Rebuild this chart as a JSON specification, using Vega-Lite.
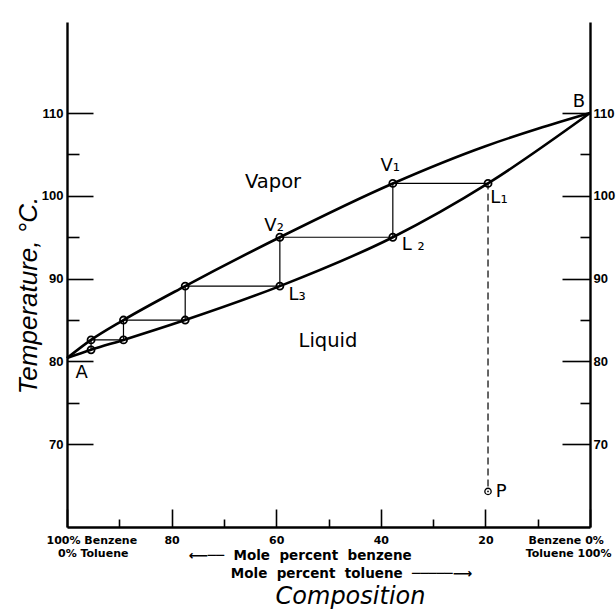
{
  "$schema": "https://vega.github.io/schema/vega-lite/v6.json",
  "width": 523,
  "height": 505,
  "autosize": {"type": "none"},
  "padding": {"left": 67, "top": 22, "right": 26, "bottom": 83},
  "background": "white",
  "config": {"view": {"stroke": null}, "font": "DejaVu Sans"},
  "title": {"text": "Composition", "orient": "bottom", "anchor": "middle", "dx": 22, "font": "DejaVu Sans", "fontStyle": "italic", "fontWeight": "normal", "fontSize": 24, "color": "black", "offset": 5},
  "datasets": {
    "curves": [
      {"curve": "vapor", "b": 100, "t": 80.4},
      {"curve": "vapor", "b": 95.4, "t": 82.6},
      {"curve": "vapor", "b": 89.2, "t": 85.0},
      {"curve": "vapor", "b": 77.4, "t": 89.1},
      {"curve": "vapor", "b": 59.3, "t": 95.0},
      {"curve": "vapor", "b": 37.7, "t": 101.5},
      {"curve": "vapor", "b": 20, "t": 106.0},
      {"curve": "vapor", "b": 10, "t": 108.1},
      {"curve": "vapor", "b": 0, "t": 110.0},
      {"curve": "liquid", "b": 100, "t": 80.4},
      {"curve": "liquid", "b": 95.4, "t": 81.4},
      {"curve": "liquid", "b": 89.2, "t": 82.6},
      {"curve": "liquid", "b": 77.4, "t": 85.0},
      {"curve": "liquid", "b": 59.3, "t": 89.1},
      {"curve": "liquid", "b": 37.7, "t": 95.0},
      {"curve": "liquid", "b": 19.5, "t": 101.5},
      {"curve": "liquid", "b": 0, "t": 110.0}
    ],
    "stair": [
      {"step": 1, "name": "L1", "b": 19.5, "t": 101.5},
      {"step": 2, "name": "V1", "b": 37.7, "t": 101.5},
      {"step": 3, "name": "L2", "b": 37.7, "t": 95.0},
      {"step": 4, "name": "V2", "b": 59.3, "t": 95.0},
      {"step": 5, "name": "L3", "b": 59.3, "t": 89.1},
      {"step": 6, "name": "V3", "b": 77.4, "t": 89.1},
      {"step": 7, "name": "L4", "b": 77.4, "t": 85.0},
      {"step": 8, "name": "V4", "b": 89.2, "t": 85.0},
      {"step": 9, "name": "L5", "b": 89.2, "t": 82.6},
      {"step": 10, "name": "V5", "b": 95.4, "t": 82.6},
      {"step": 11, "name": "L6", "b": 95.4, "t": 81.4}
    ],
    "dash": [{"b": 19.5, "t": 64.9, "t2": 101.5}],
    "pfeed": [{"b": 19.5, "t": 64.3}],
    "labels": [
      {"kind": "region", "text": "Vapor", "b": 60.6, "t": 101.0},
      {"kind": "region", "text": "Liquid", "b": 50.1, "t": 81.7},
      {"kind": "point", "text": "A", "b": 97.2, "t": 78.0},
      {"kind": "point", "text": "B", "b": 2.1, "t": 110.7},
      {"kind": "point", "text": "V₁", "b": 38.2, "t": 103.0},
      {"kind": "point", "text": "V₂", "b": 60.4, "t": 95.8},
      {"kind": "point", "text": "L₁", "b": 17.4, "t": 99.1},
      {"kind": "point", "text": "L ₂", "b": 33.8, "t": 93.4},
      {"kind": "point", "text": "L₃", "b": 56.0, "t": 87.4},
      {"kind": "point", "text": "P", "b": 17.0, "t": 63.6}
    ]
  },
  "encoding": {
    "x": {
      "field": "b", "type": "quantitative",
      "scale": {"domain": [0, 100], "reverse": true, "nice": false, "zero": false},
      "axis": {
        "orient": "bottom",
        "values": [100, 90, 80, 70, 60, 50, 40, 30, 20, 10, 0],
        "grid": false,
        "tickSize": {"condition": {"test": "datum.value % 20 === 0", "value": -18}, "value": -8},
        "tickColor": "black", "tickWidth": 1.6,
        "domainColor": "black", "domainWidth": 2.4,
        "labelExpr": "datum.value === 100 ? ['100% Benzene', '\u200b\u00a0\u00a0\u00a00% Toluene'] : (datum.value === 0 ? ['Benzene 0%\u00a0\u00a0\u200b', 'Toluene 100%'] : (datum.value % 20 === 0 ? datum.label : ''))",
        "labelFlush": true, "labelFlushOffset": 21,
        "labelPadding": 25,
        "labelFont": "DejaVu Sans", "labelFontWeight": "bold", "labelFontSize": 11, "labelColor": "black",
        "labelLineHeight": 13,
        "title": ["⟵──\u00a0\u00a0Mole\u00a0\u00a0percent\u00a0\u00a0benzene", "\u200b\u00a0\u00a0\u00a0\u00a0\u00a0\u00a0\u00a0\u00a0\u00a0Mole\u00a0\u00a0percent\u00a0\u00a0toluene\u00a0\u00a0─────⟶"],
        "titleFont": "DejaVu Sans", "titleFontWeight": "bold", "titleFontSize": 13.5, "titleColor": "black",
        "titleAlign": "left", "titleBaseline": "alphabetic", "titleX": 121, "titleY": 32, "titleLineHeight": 18
      }
    },
    "y": {"field": "t", "type": "quantitative", "scale": {"domain": [60, 121], "nice": false, "zero": false}, "axis": null}
  },
  "layer": [
    {
      "data": {"name": "curves"},
      "mark": {"type": "line", "color": "black", "strokeWidth": 2.6, "interpolate": "monotone"},
      "encoding": {
        "detail": {"field": "curve"},
        "y": {
          "field": "t", "type": "quantitative",
          "scale": {"domain": [60, 121], "nice": false, "zero": false},
          "axis": {
            "orient": "left",
            "values": [70, 75, 80, 85, 90, 95, 100, 105, 110],
            "grid": false,
            "tickSize": {"condition": {"test": "datum.value % 10 === 0", "value": -26}, "value": -12},
            "tickColor": "black", "tickWidth": 1.6,
            "domainColor": "black", "domainWidth": 2.4,
            "labelExpr": "datum.value % 10 === 0 ? datum.label : ''",
            "labelPadding": 30,
            "labelFont": "Liberation Sans", "labelFontWeight": "bold", "labelFontSize": 13, "labelColor": "black",
            "title": "Temperature, °C.",
            "titleFont": "Liberation Sans", "titleFontStyle": "italic", "titleFontWeight": "normal", "titleFontSize": 26, "titleColor": "black",
            "titleAngle": -90, "titleAlign": "center", "titleBaseline": "alphabetic", "titleX": -31, "titleY": 273
          }
        }
      }
    },
    {
      "data": {"name": "stair"},
      "mark": {"type": "line", "color": "black", "strokeWidth": 1.2},
      "encoding": {
        "order": {"field": "step", "type": "quantitative"},
        "y": {
          "field": "t", "type": "quantitative",
          "scale": {"domain": [60, 121], "nice": false, "zero": false},
          "axis": {
            "orient": "right",
            "values": [70, 75, 80, 85, 90, 95, 100, 105, 110],
            "grid": false,
            "tickSize": {"condition": {"test": "datum.value % 10 === 0", "value": -28}, "value": -10},
            "tickColor": "black", "tickWidth": 1.6,
            "domainColor": "black", "domainWidth": 2.4,
            "labelExpr": "datum.value % 10 === 0 ? datum.label : ''",
            "labelPadding": 31,
            "labelFont": "Liberation Sans", "labelFontWeight": "bold", "labelFontSize": 13, "labelColor": "black",
            "title": null
          }
        }
      }
    },
    {
      "data": {"name": "stair"},
      "mark": {"type": "point", "shape": "circle", "filled": false, "color": "black", "size": 50, "strokeWidth": 1.8, "opacity": 1}
    },
    {
      "data": {"name": "dash"},
      "mark": {"type": "rule", "color": "black", "strokeWidth": 1.2, "strokeDash": [7, 4]},
      "encoding": {"y2": {"field": "t2"}}
    },
    {
      "data": {"name": "pfeed"},
      "mark": {"type": "point", "shape": "circle", "filled": false, "color": "black", "size": 40, "strokeWidth": 1.3, "opacity": 1}
    },
    {
      "data": {"name": "pfeed"},
      "mark": {"type": "point", "shape": "circle", "filled": true, "color": "black", "size": 3, "opacity": 1}
    },
    {
      "data": {"name": "labels"},
      "transform": [{"filter": "datum.kind === 'region'"}],
      "mark": {"type": "text", "color": "black", "font": "DejaVu Sans", "fontSize": 19.5, "align": "center", "baseline": "alphabetic"},
      "encoding": {"text": {"field": "text"}}
    },
    {
      "data": {"name": "labels"},
      "transform": [{"filter": "datum.kind === 'point'"}],
      "mark": {"type": "text", "color": "black", "font": "DejaVu Sans", "fontSize": 18, "align": "center", "baseline": "alphabetic"},
      "encoding": {"text": {"field": "text"}}
    }
  ],
  "resolve": {"axis": {"y": "independent"}}
}
